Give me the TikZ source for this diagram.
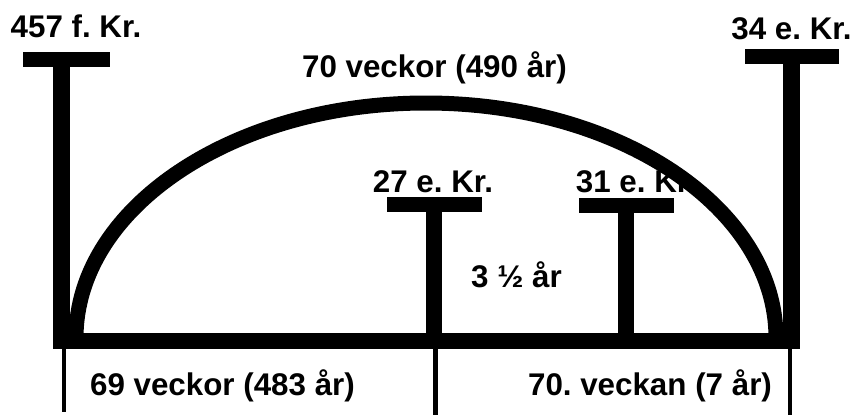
\documentclass[tikz,border=0pt]{standalone}
\usepackage{fontspec}
\setmainfont{Liberation Sans}
\frenchspacing
\begin{document}
\begin{tikzpicture}[x=0.75pt,y=-0.75pt,
  lbl/.style={font=\bfseries\fontsize{23.5pt}{26pt}\selectfont, anchor=base, inner sep=0pt},
  thick line/.style={line width=12pt, line cap=butt},
  bar/.style={line width=11.25pt, line cap=butt, rounded corners=1pt},
  thin line/.style={line width=3.4pt}]
\useasboundingbox (0,0) rectangle (856,415);
% labels
\node[lbl] (l457) at (76,37) {457 f. Kr.};
\node[lbl] (l34) at (791.5,39) {34 e. Kr.};
\node[lbl] (l70) at (434.5,77) {70 veckor (490 år)};
\node[lbl] (l27) at (433,192) {27 e. Kr.};
\node[lbl] (l31) at (636,192) {31 e. Kr.};
\node[lbl] (lhalf) at (516.5,287) {3 ½ år};
\node[lbl] (l69) at (222.5,395) {69 veckor (483 år)};
\node[lbl] (l7) at (650,395) {70. veckan (7 år)};
% coordinates
\coordinate (A1) at (23,59.5);  \coordinate (A2) at (110,59.5);
\coordinate (At) at (61.5,59.5); \coordinate (Ab) at (61.5,341);
\coordinate (D1) at (745,56.5); \coordinate (D2) at (839,56.5);
\coordinate (Dt) at (791.5,56.5); \coordinate (Db) at (791.5,341);
\coordinate (B1) at (387,204.5); \coordinate (B2) at (482,204.5);
\coordinate (Bt) at (434,204.5); \coordinate (Bb) at (434,341);
\coordinate (C1) at (579,205.5); \coordinate (C2) at (674,205.5);
\coordinate (Ct) at (626,205.5); \coordinate (Cb) at (626,341);
\coordinate (L0) at (53,341);   \coordinate (R0) at (800,341);
\coordinate (T1) at (64,349);   \coordinate (T1e) at (64,412);
\coordinate (T2) at (435.5,349); \coordinate (T2e) at (435.5,415);
\coordinate (T3) at (790,349);  \coordinate (T3e) at (790,415);
\coordinate (Arc0) at (76,338);
% bars
\draw[bar] (A1) -- (A2);
\draw[bar] (D1) -- (D2);
\draw[bar] (B1) -- (B2);
\draw[bar] (C1) -- (C2);
% stems
\draw[line width=12.75pt] (At) -- (Ab);
\draw[line width=12.75pt] (Dt) -- (Db);
\draw[line width=12pt] (Bt) -- (Bb);
\draw[line width=12pt] (Ct) -- (Cb);
% arc
\draw[line width=11.25pt] (Arc0) arc[start angle=180, end angle=360, x radius=350, y radius=235];
% baseline
\draw[thick line] (L0) -- (R0);
% thin lines below
\draw[thin line] (T1) -- (T1e);
\draw[thin line] (T2) -- (T2e);
\draw[thin line] (T3) -- (T3e);
\end{tikzpicture}
\end{document}
